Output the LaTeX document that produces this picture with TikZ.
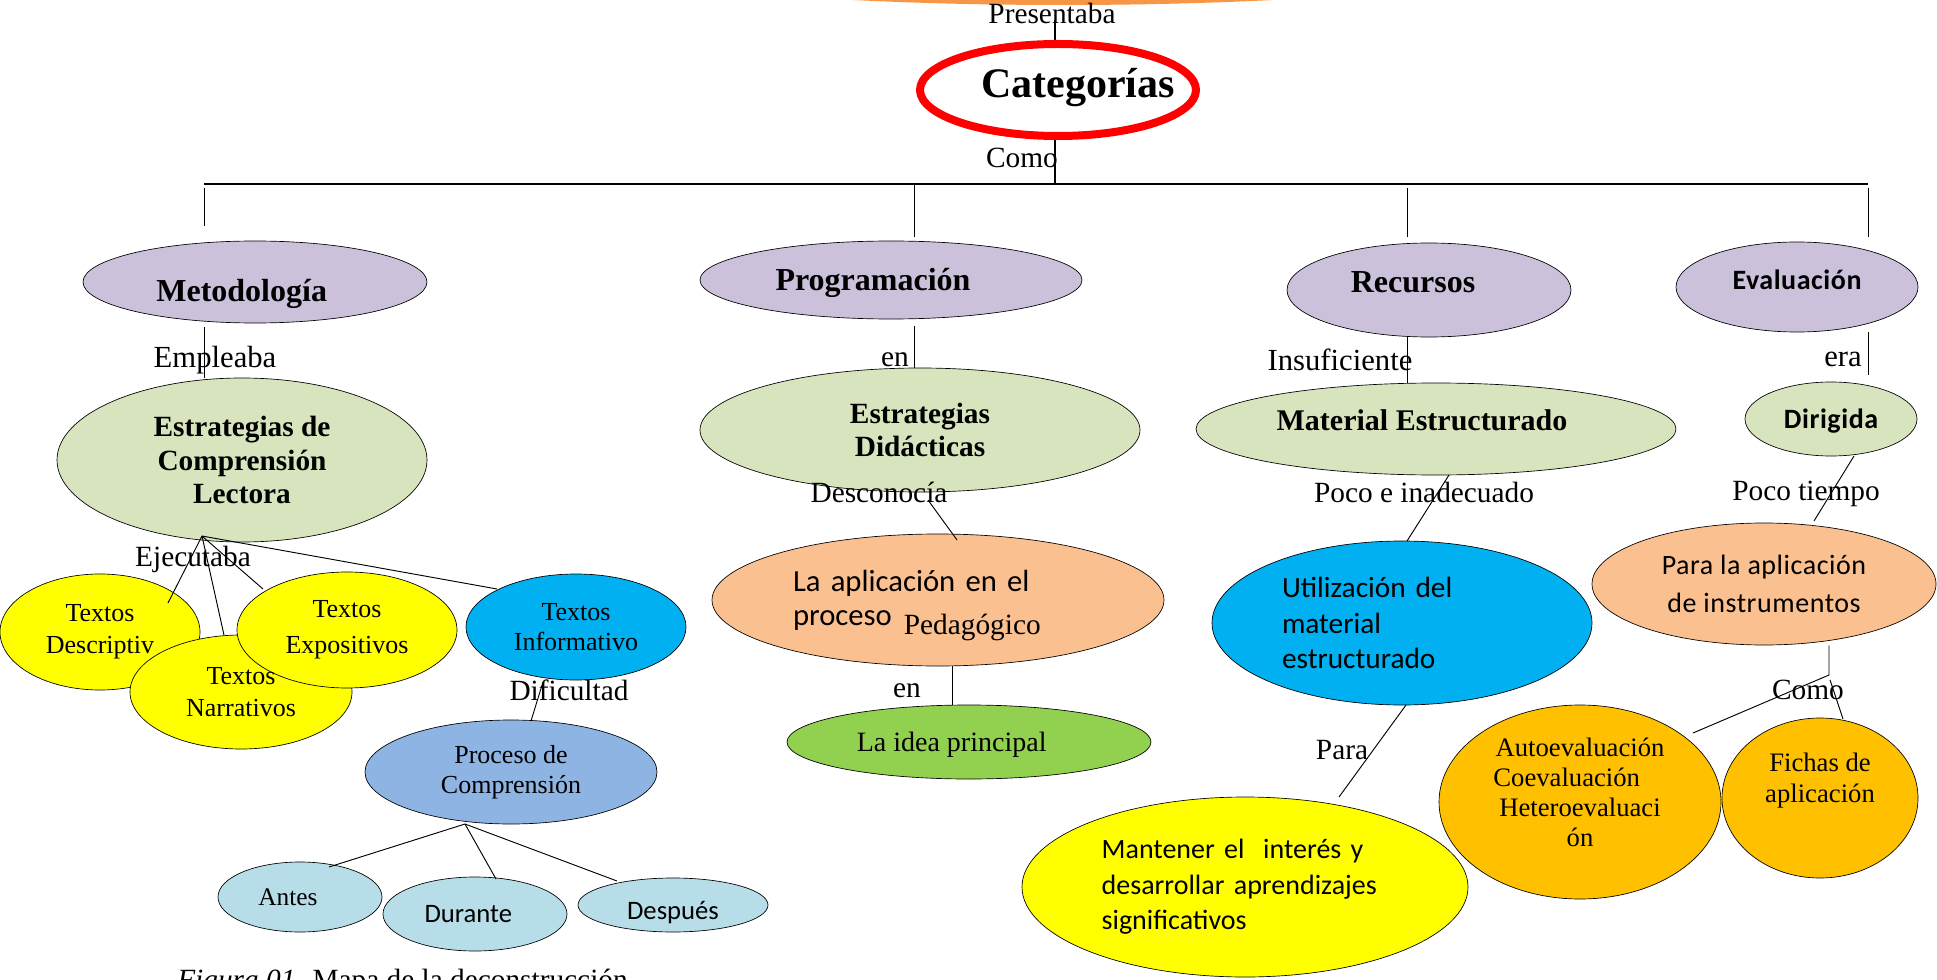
\documentclass[tikz,border=0pt]{standalone}
\usepackage{fontspec}
\setmainfont{Liberation Serif}
\newfontfamily\calib{Carlito}
\newfontfamily\calibsp{Carlito}[LetterSpace=2]
\usetikzlibrary{shapes.geometric,calc}
\definecolor{lav}{HTML}{CCC1DA}
\definecolor{lgreen}{HTML}{D7E4BD}
\definecolor{yel}{HTML}{FFFF00}
\definecolor{cyanb}{HTML}{00B0F0}
\definecolor{procb}{HTML}{8EB4E3}
\definecolor{lcyan}{HTML}{B7DEE8}
\definecolor{peach}{HTML}{FAC090}
\definecolor{grn}{HTML}{92D050}
\definecolor{gold}{HTML}{FFC000}
\definecolor{orng}{HTML}{F79646}
\newcommand\fs[2]{\fontsize{#1}{#2}\selectfont}
% single line text, shifted by dx (right) and visually centred dy (up) from node centre
\newcommand\sxy[3]{\raisebox{\dimexpr#2-0.33em\relax}[0pt][0pt]{\makebox[0pt]{\hspace*{#1}\hspace*{#1}#3}}}
% multi line block, shifted
\newcommand\blk[3]{\raisebox{#2}[0pt][0pt]{\makebox[0pt]{\hspace*{#1}\hspace*{#1}\begin{tabular}{@{}c@{}}#3\end{tabular}}}}
\tikzset{
  bub/.style n args={3}{ellipse, draw=black, line width=0.5pt, fill=#3,
    minimum width={#1*1.5pt}, minimum height={#2*1.5pt}, inner sep=0pt, align=center},
  txt/.style={inner sep=0pt, align=center},
  lbl/.style={inner sep=0pt, font=\fs{22pt}{26pt}},
  conn/.style={draw=black, line width=0.7pt},
  bar/.style={draw=black, line width=1.5pt},
}
\begin{document}
\begin{tikzpicture}[x=0.75pt,y=-0.75pt]
\useasboundingbox (0,0) rectangle (1937,980);
\begin{scope}
\clip (0,0) rectangle (1937,980);
\fill[white] (0,0) rectangle (1937,980);

% ---------- nodes ----------
\node[ellipse, fill=orng, minimum width=930pt, minimum height=127.5pt, inner sep=0pt] (top) at (1063,-80) {};

\node[bub={138}{46}{white}, draw=red, line width=6pt, font=\fs{31.5pt}{36pt}\bfseries] (cat) at (1058,90) {\sxy{15pt}{5pt}{Categorías}};

\node[bub={172}{41}{lav}, font=\fs{24pt}{28pt}\bfseries] (met) at (255,282) {\sxy{-10pt}{-7pt}{Metodología}};
\node[bub={191}{39}{lav}, font=\fs{24pt}{28pt}\bfseries] (prog) at (891,280) {\sxy{-13.5pt}{0pt}{Programación}};
\node[bub={142}{47}{lav}, font=\fs{24pt}{28pt}\bfseries] (rec) at (1429,290) {\sxy{-12pt}{6pt}{Recursos}};
\node[bub={121}{45}{lav}, font=\calibsp\fs{21pt}{25pt}\bfseries] (eva) at (1797,287) {\sxy{0pt}{5pt}{Evaluación}};

\node[bub={185}{82}{lgreen}, font=\fs{22pt}{25pt}\bfseries] (ecl) at (242,460) {Estrategias de\\Comprensión\\Lectora};
\node[bub={220}{62}{lgreen}, font=\fs{22pt}{25pt}\bfseries] (edid) at (920,430) {Estrategias\\Didácticas};
\node[bub={240}{46}{lgreen}, font=\fs{22.5pt}{26pt}\bfseries] (mat) at (1436,429) {\sxy{-10.5pt}{6pt}{Material Estructurado}};
\node[bub={86}{37}{lgreen}, font=\calibsp\fs{21pt}{25pt}\bfseries] (dir) at (1831,419) {\sxy{0pt}{0pt}{Dirigida}};

% yellow trio: shapes then texts
\node[bub={100}{58}{yel}] (desc) at (100,632) {};
\node[bub={111}{57}{yel}] (narr) at (241,692) {};
\node[bub={110}{58}{yel}] (expo) at (347,630) {};
\node[txt, font=\fs{19.5pt}{24pt}] (descT) at (desc.center) {Textos\\Descriptiv};
\node[txt, font=\fs{19.5pt}{23.5pt}] (narrT) at (narr.center) {Textos\\Narrativos};
\node[txt, font=\fs{19.5pt}{27pt}] (expoT) at (expo.center) {Textos\\Expositivos};

\node[bub={110}{53}{cyanb}, font=\fs{19.5pt}{22pt}] (info) at (576,627) {Textos\\Informativo};
\node[bub={146}{52}{procb}, font=\fs{19.5pt}{22.5pt}] (proc) at (511,772) {Proceso de\\Comprensión};
\node[bub={82}{35}{lcyan}, font=\fs{19pt}{22pt}] (antes) at (300,897) {\sxy{-9pt}{0pt}{Antes}};
\node[bub={92}{37}{lcyan}, font=\calib\fs{20pt}{24pt}] (durante) at (475,914) {\sxy{-5pt}{0pt}{Durante}};
\node[bub={95}{27}{lcyan}, font=\calib\fs{20pt}{24pt}] (despues) at (673,905) {\sxy{0pt}{-4pt}{Después}};

\node[bub={226}{66}{peach}, font=\calib\fs{23pt}{25.5pt}, text width=217.5pt, align=left] (apl) at (938,600)
  {La aplicación en el\\proceso\hspace{9pt}\raisebox{-7pt}[0pt][0pt]{\rmfamily\fs{22pt}{26pt}Pedagógico}};
\node[bub={182}{37}{grn}, font=\fs{21pt}{25pt}] (idea) at (969,742) {\sxy{-13pt}{0pt}{La idea principal}};

\node[bub={190}{82}{cyanb}, font=\calib\fs{22pt}{26.5pt}, text width=180pt, align=left] (util) at (1402,623)
  {Utilización del\\material\\estructurado};
\node[bub={223}{90}{yel}, font=\calib\fs{21pt}{26.5pt}, text width=215pt, align=left] (mant) at (1245,887)
  {Mantener el\ \ interés y\\desarrollar aprendizajes\\significativos};

\node[bub={172}{61}{peach}, font=\calibsp\fs{21pt}{29pt}] (paraap) at (1764,584) {Para la aplicación\\de instrumentos};
\node[bub={141}{97}{gold}, font=\fs{20pt}{22.5pt}] (auto) at (1580,802)
  {\blk{0pt}{0pt}{Autoevaluación\\Coevaluación\rule{20pt}{0pt}\\Heteroevaluaci\\ón}};
\node[bub={98}{80}{gold}, font=\fs{20pt}{23.5pt}] (fichas) at (1820,798) {\blk{0pt}{8pt}{Fichas de\\aplicación}};

% ---------- link labels ----------
\node[lbl] (lPres) at (1052,13) {Presentaba};
\node[lbl] (lComo) at (1022,158) {Como};
\node[lbl, font=\fs{23pt}{26pt}] (lEmp) at (215,360) {Empleaba};
\node[lbl] (lEn1) at (895,360) {en};
\node[lbl, font=\fs{23pt}{26pt}] (lIns) at (1340,360) {Insuficiente};
\node[lbl, font=\fs{23pt}{26pt}] (lEra) at (1843,359) {era};
\node[lbl] (lEje) at (193,559) {Ejecutaba};
\node[lbl] (lDes) at (879,492) {Desconocía};
\node[lbl] (lPoco) at (1424,492) {Poco e inadecuado};
\node[lbl] (lPt) at (1806,494) {Poco tiempo};
\node[lbl] (lDif) at (569,690) {Dificultad};
\node[lbl] (lEn2) at (907,691) {en};
\node[lbl] (lPara) at (1342,750) {Para};
\node[lbl] (lComo2) at (1808,690) {Como};

\node[anchor=base west, inner sep=0pt, font=\fs{22pt}{26pt}] (cap) at (177,989) {\textit{Figura 01.} Mapa de la deconstrucción};

% ---------- connectors ----------
\coordinate (presE) at (1055,20);
\coordinate (hbM) at (1055,184);
\coordinate (hbL) at (204,184);
\coordinate (hbR) at (1868,184);
\coordinate (d2) at (914,184);
\coordinate (d3) at (1407,184);

\draw[bar] (presE) -- (cat.north -| presE);
\draw[bar] (cat.south -| presE) -- (hbM);
\draw[bar] (hbL) -- (hbR);

\draw[conn, shorten >=11pt] ([yshift=-3pt]hbL) -- (met.north -| hbL);
\draw[conn, shorten >=3pt] (d2) -- (prog.north -| d2);
\draw[conn, shorten >=4.5pt] ([yshift=-3pt]d3) -- (rec.north -| d3);
\draw[conn, shorten >=3.5pt] ([yshift=-3pt]hbR) -- (eva.north -| hbR);

% Metodologia branch
\draw[conn, shorten <=3pt] (met.south -| hbL) -- (ecl.north -| hbL);
\coordinate (ej) at ($(ecl.center)+(-40,76)$);
\draw[conn] (ej) -- ($(desc.center)+(68,-29)$);
\draw[conn] (ej) -- ($(narr.center)+(-17,-57)$);
\draw[conn] (ej) -- ($(expo.center)+(-84,-41)$);
\draw[conn] (ej) -- ($(info.center)+(-79,-38)$);
\draw[conn] ($(info.center)+(-33,55)$) -- ($(proc.center)+(20,-51)$);
\coordinate (pb) at ($(proc.center)+(-46,52)$);
\draw[conn] (pb) -- ($(antes.center)+(29,-30)$);
\draw[conn] (pb) -- ($(durante.center)+(21,-35)$);
\draw[conn] (pb) -- ($(despues.center)+(-56,-24)$);

% Programacion branch
\draw[conn, shorten <=5pt] (prog.south -| d2) -- (edid.north -| d2);
\draw[conn] ($(edid.center)+(8,70)$) -- ($(apl.center)+(19,-60)$);
\draw[conn] ($(apl.south)+(14,0)$) -- ($(idea.north)+(-17,0)$);

% Recursos branch
\draw[conn] (rec.south -| d3) -- (mat.north -| d3);
\draw[conn] ($(mat.center)+(13,46)$) -- ($(util.center)+(5,-82)$);
\draw[conn] ($(util.center)+(4,82)$) -- ($(mant.center)+(94,-90)$);

% Evaluacion branch
\draw[conn, shorten >=5pt] (eva.south -| hbR) -- (dir.north -| hbR);
\draw[conn] ($(dir.center)+(23,37)$) -- ($(paraap.center)+(50,-63)$);
\coordinate (cm) at (1829,675);
\draw[conn] (paraap.south -| cm) -- (cm) -- ($(auto.center)+(113,-69)$);
\draw[conn] ($(cm)+(1,5)$) -- ($(fichas.center)+(23,-79)$);
\end{scope}
\end{tikzpicture}
\end{document}
